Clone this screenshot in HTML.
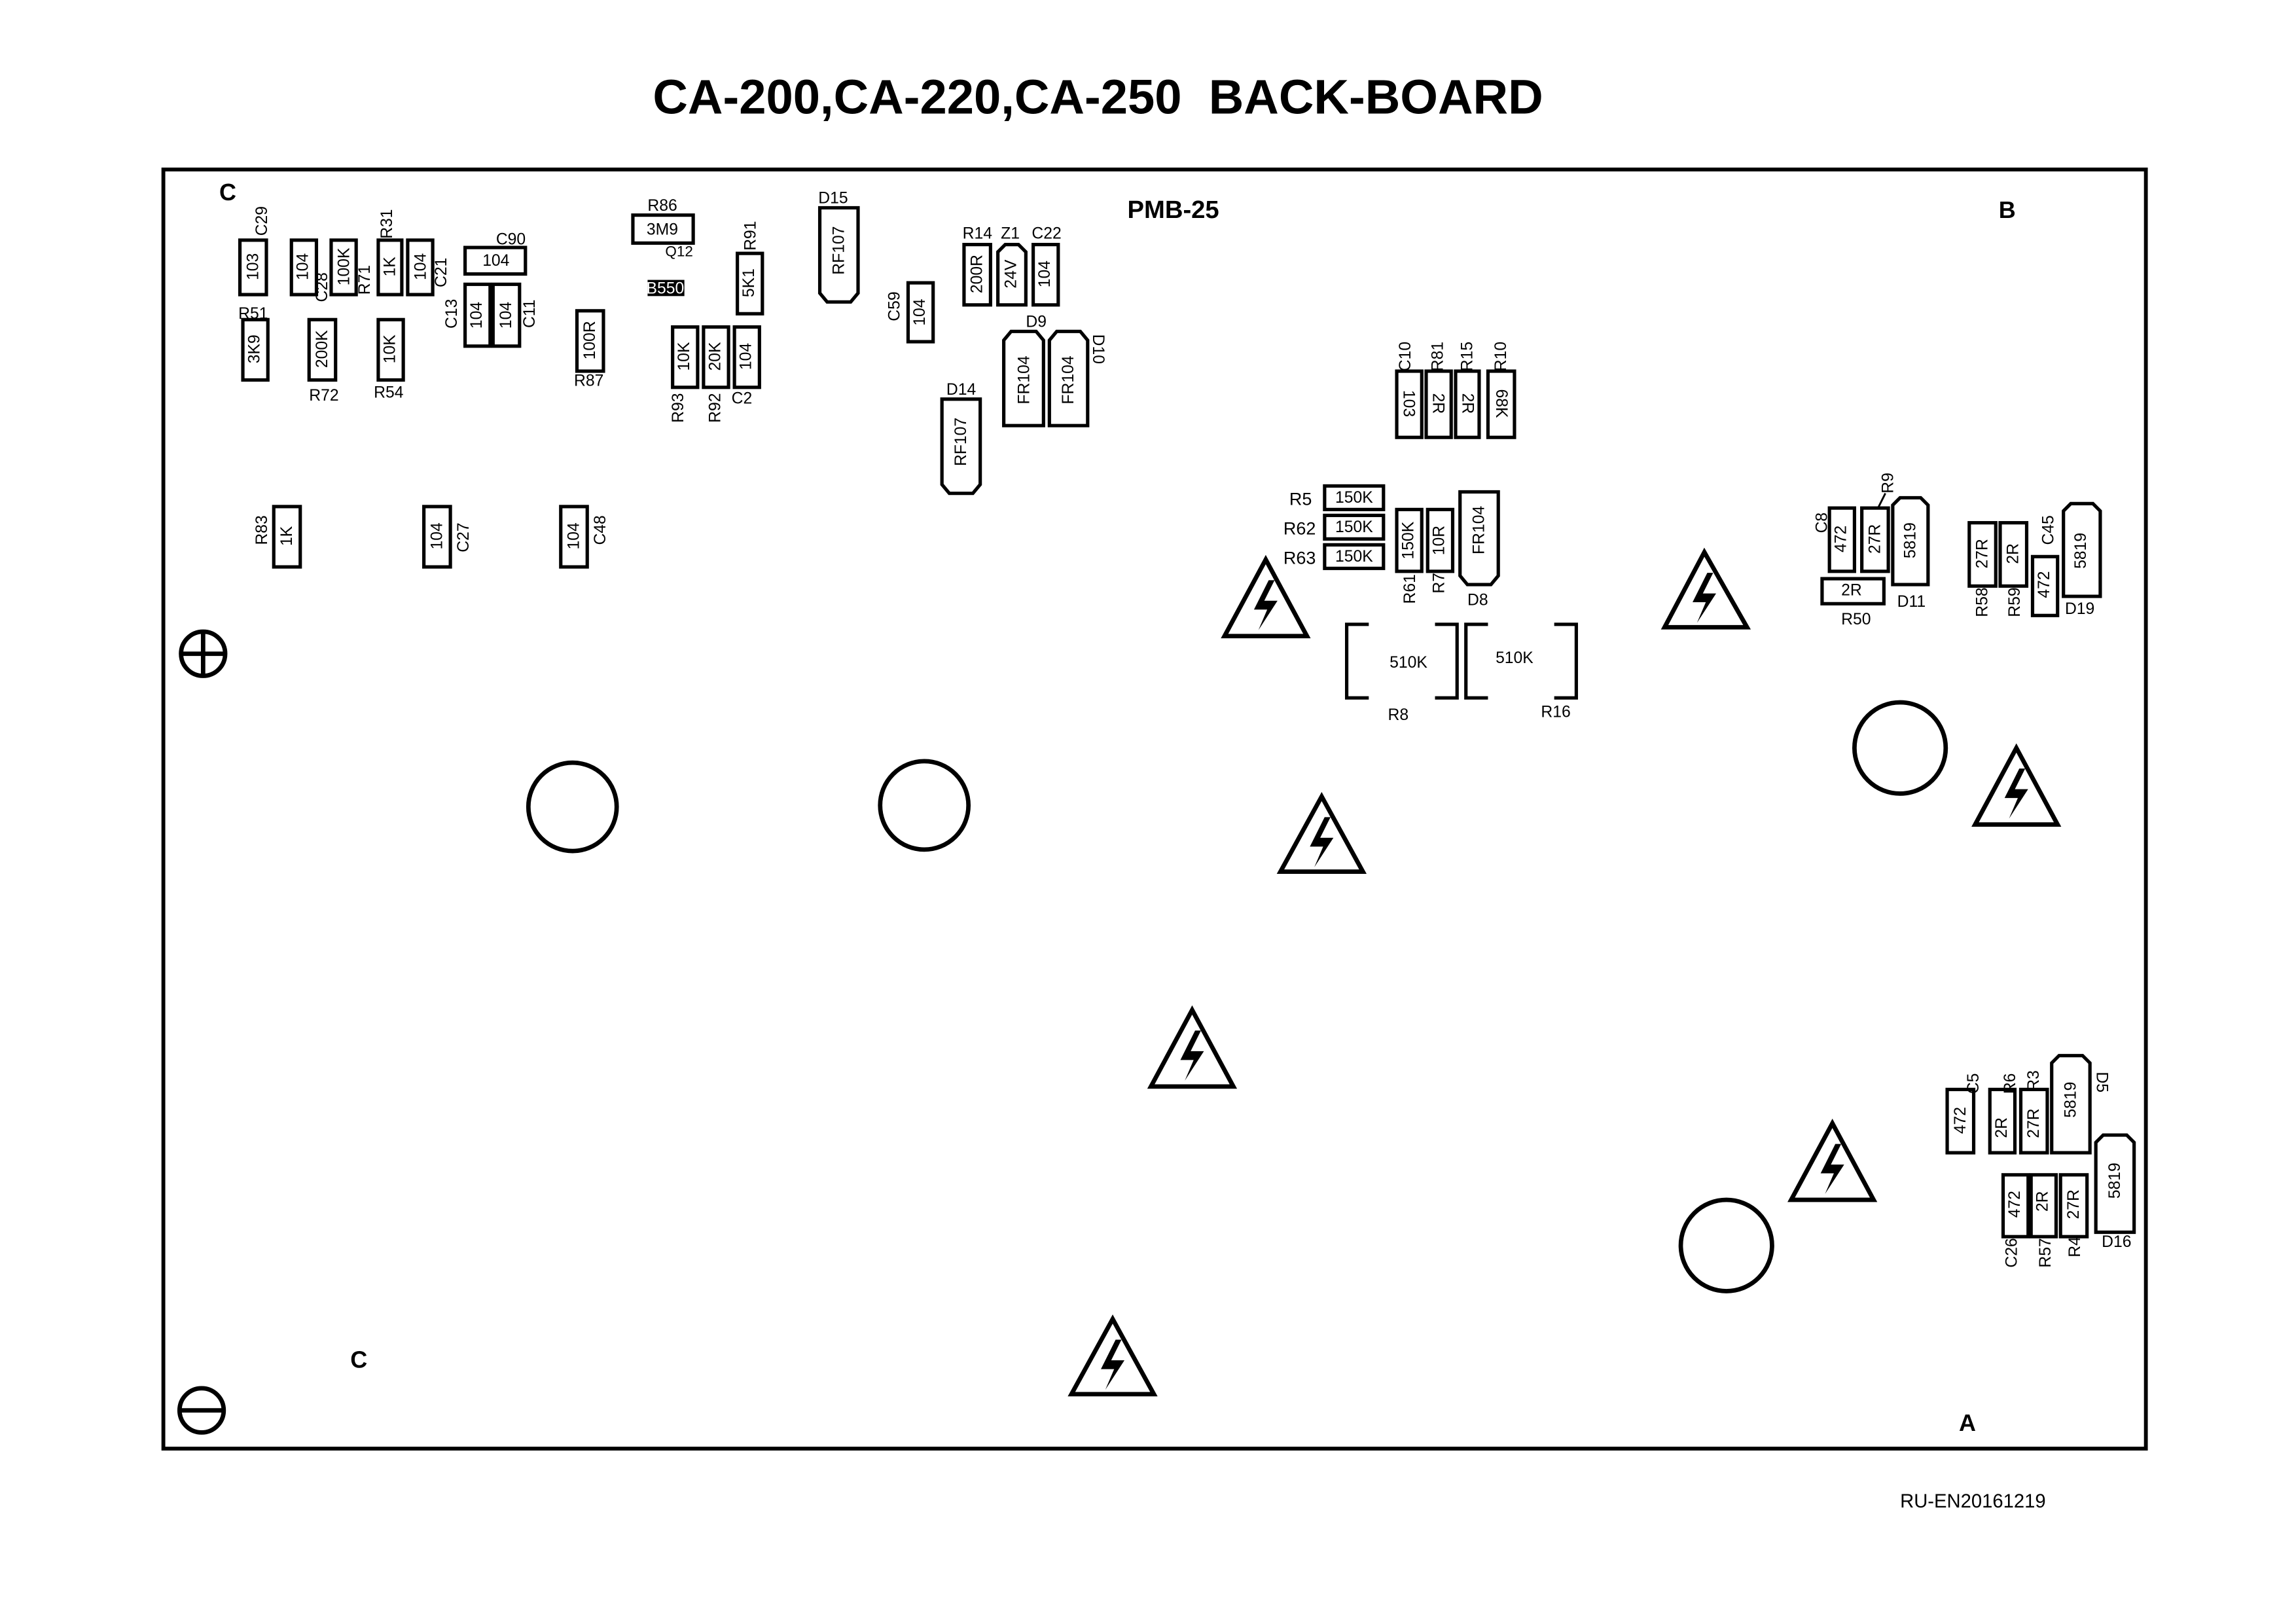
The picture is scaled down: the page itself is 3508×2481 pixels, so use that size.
<!DOCTYPE html>
<html><head><meta charset="utf-8"><style>
html,body{margin:0;padding:0;background:#fff}
svg{display:block}
.p{fill:none;stroke:#000;stroke-width:2.3}
.t{font-family:"Liberation Sans",sans-serif;font-size:11px;fill:#000}
.v{font-family:"Liberation Sans",sans-serif;font-size:11px;fill:#000;text-anchor:middle;dominant-baseline:central}
.tri{fill:none;stroke:#000;stroke-width:3;stroke-linejoin:miter}
.bolt{fill:#000}
</style></head><body>
<svg width="3508" height="2481" viewBox="0 0 1560 1103" xmlns="http://www.w3.org/2000/svg">
<rect width="1560" height="1103" fill="#fff"/>
<text x="746" y="77" text-anchor="middle" xml:space="preserve" style="white-space:pre" font-family="Liberation Sans,sans-serif" font-weight="bold" font-size="33" fill="#000">CA-200,CA-220,CA-250  BACK-BOARD</text>
<rect x="111" y="115" width="1347" height="869" fill="none" stroke="#000" stroke-width="2.6"/>
<g font-family="Liberation Sans,sans-serif" font-weight="bold" font-size="16" fill="#000">
<text x="149" y="136">C</text><text x="1358" y="148">B</text><text x="238" y="929">C</text><text x="1331" y="972">A</text>
<text x="766" y="148" font-size="17">PMB-25</text>
</g>
<text x="1291" y="1024" font-family="Liberation Sans,sans-serif" font-size="13" fill="#000">RU-EN20161219</text>

<circle cx="138" cy="444" r="15" fill="none" stroke="#000" stroke-width="3"/>
<line x1="124" y1="444" x2="152" y2="444" stroke="#000" stroke-width="3"/><line x1="138" y1="430" x2="138" y2="458" stroke="#000" stroke-width="3"/>
<circle cx="137" cy="958" r="15" fill="none" stroke="#000" stroke-width="3"/>
<line x1="123" y1="958" x2="151" y2="958" stroke="#000" stroke-width="3"/>

<g fill="none" stroke="#000" stroke-width="3">
<circle cx="389" cy="548" r="30"/><circle cx="628" cy="547" r="30"/><circle cx="1291" cy="508" r="31"/><circle cx="1173" cy="846" r="31"/>
</g>

<g>
<polygon class="tri" points="860,380 888,432 832,432"/><path class="bolt" d="M862,394 L852,414 L861,414 L855,428 L868,408 L859,408 L866,394Z"/>
<polygon class="tri" points="1158,375 1187,426 1131,426"/><path class="bolt" d="M1160,389 L1150,409 L1159,409 L1153,423 L1166,403 L1157,403 L1164,389Z"/>
<polygon class="tri" points="898,541 926,592 870,592"/><path class="bolt" d="M900,555 L890,575 L899,575 L893,589 L906,569 L897,569 L904,555Z"/>
<polygon class="tri" points="1370,508 1398,560 1342,560"/><path class="bolt" d="M1372,522 L1362,542 L1371,542 L1365,556 L1378,536 L1369,536 L1376,522Z"/>
<polygon class="tri" points="810,686 838,738 782,738"/><path class="bolt" d="M812,700 L802,720 L811,720 L805,734 L818,714 L809,714 L816,700Z"/>
<polygon class="tri" points="1245,763 1273,815 1217,815"/><path class="bolt" d="M1247,777 L1237,797 L1246,797 L1240,811 L1253,791 L1244,791 L1251,777Z"/>
<polygon class="tri" points="756,896 784,947 728,947"/><path class="bolt" d="M758,910 L748,930 L757,930 L751,944 L764,924 L755,924 L762,910Z"/>
</g>

<g>
<rect class="p" x="163" y="163" width="18" height="37"/><text class="v" transform="translate(172,181) rotate(-90)">103</text>
<rect class="p" x="198" y="163" width="17" height="37"/><text class="v" transform="translate(206,181) rotate(-90)">104</text>
<rect class="p" x="225" y="163" width="17" height="37"/><text class="v" transform="translate(234,181) rotate(-90)">100K</text>
<rect class="p" x="257" y="163" width="16" height="37"/><text class="v" transform="translate(265,181) rotate(-90)">1K</text>
<rect class="p" x="277" y="163" width="17" height="37"/><text class="v" transform="translate(286,181) rotate(-90)">104</text>
<rect class="p" x="316" y="193" width="17" height="42"/><text class="v" transform="translate(324,214) rotate(-90)">104</text>
<rect class="p" x="335" y="193" width="18" height="42"/><text class="v" transform="translate(344,214) rotate(-90)">104</text>
<rect class="p" x="165" y="217" width="17" height="41"/><text class="v" transform="translate(173,237) rotate(-90)">3K9</text>
<rect class="p" x="210" y="217" width="18" height="41"/><text class="v" transform="translate(219,237) rotate(-90)">200K</text>
<rect class="p" x="257" y="217" width="17" height="41"/><text class="v" transform="translate(265,237) rotate(-90)">10K</text>
<rect class="p" x="501" y="172" width="17" height="41"/><text class="v" transform="translate(509,192) rotate(-90)">5K1</text>
<rect class="p" x="392" y="211" width="18" height="41"/><text class="v" transform="translate(401,231) rotate(-90)">100R</text>
<rect class="p" x="457" y="222" width="17" height="41"/><text class="v" transform="translate(465,242) rotate(-90)">10K</text>
<rect class="p" x="478" y="222" width="17" height="41"/><text class="v" transform="translate(486,242) rotate(-90)">20K</text>
<rect class="p" x="499" y="222" width="17" height="41"/><text class="v" transform="translate(507,242) rotate(-90)">104</text>
<rect class="p" x="617" y="192" width="17" height="40"/><text class="v" transform="translate(625,212) rotate(-90)">104</text>
<rect class="p" x="655" y="166" width="18" height="41"/><text class="v" transform="translate(664,186) rotate(-90)">200R</text>
<path class="p" d="M678,171 L683,166 L692,166 L697,171 L697,207 L678,207Z"/><text class="v" transform="translate(687,186) rotate(-90)">24V</text>
<rect class="p" x="702" y="166" width="17" height="41"/><text class="v" transform="translate(710,186) rotate(-90)">104</text>
<rect class="p" x="186" y="344" width="18" height="41"/><text class="v" transform="translate(195,364) rotate(-90)">1K</text>
<rect class="p" x="288" y="344" width="18" height="41"/><text class="v" transform="translate(297,364) rotate(-90)">104</text>
<rect class="p" x="381" y="344" width="18" height="41"/><text class="v" transform="translate(390,364) rotate(-90)">104</text>
<path class="p" d="M557,141 L583,141 L583,199 L578,205 L562,205 L557,199Z"/><text class="v" transform="translate(570,170) rotate(-90)">RF107</text>
<path class="p" d="M640,271 L666,271 L666,329 L661,335 L645,335 L640,329Z"/><text class="v" transform="translate(653,300) rotate(-90)">RF107</text>
<path class="p" d="M682,231 L687,225 L704,225 L709,231 L709,289 L682,289Z"/><text class="v" transform="translate(696,258) rotate(-90)">FR104</text>
<path class="p" d="M713,231 L718,225 L734,225 L739,231 L739,289 L713,289Z"/><text class="v" transform="translate(726,258) rotate(-90)">FR104</text>
<rect class="p" x="949" y="252" width="17" height="45"/><text class="v" transform="translate(957,274) rotate(90)">103</text>
<rect class="p" x="969" y="252" width="17" height="45"/><text class="v" transform="translate(977,274) rotate(90)">2R</text>
<rect class="p" x="989" y="252" width="16" height="45"/><text class="v" transform="translate(997,274) rotate(90)">2R</text>
<rect class="p" x="1011" y="252" width="18" height="45"/><text class="v" transform="translate(1020,274) rotate(90)">68K</text>
<rect class="p" x="949" y="346" width="17" height="42"/><text class="v" transform="translate(957,367) rotate(-90)">150K</text>
<rect class="p" x="970" y="346" width="17" height="42"/><text class="v" transform="translate(978,367) rotate(-90)">10R</text>
<path class="p" d="M992,334 L1018,334 L1018,391 L1013,397 L997,397 L992,391Z"/><text class="v" transform="translate(1005,360) rotate(-90)">FR104</text>
<rect class="p" x="1243" y="345" width="17" height="43"/><text class="v" transform="translate(1251,366) rotate(-90)">472</text>
<rect class="p" x="1265" y="345" width="18" height="43"/><text class="v" transform="translate(1274,366) rotate(-90)">27R</text>
<line x1="1276" y1="345" x2="1281" y2="335" stroke="#000" stroke-width="1.3"/>
<path class="p" d="M1286,343 L1291,338 L1305,338 L1310,343 L1310,397 L1286,397Z"/><text class="v" transform="translate(1298,367) rotate(-90)">5819</text>
<rect class="p" x="1338" y="355" width="18" height="43"/><text class="v" transform="translate(1347,376) rotate(-90)">27R</text>
<rect class="p" x="1359" y="355" width="18" height="43"/><text class="v" transform="translate(1368,376) rotate(-90)">2R</text>
<rect class="p" x="1381" y="378" width="17" height="40"/><text class="v" transform="translate(1389,397) rotate(-90)">472</text>
<path class="p" d="M1402,347 L1407,342 L1422,342 L1427,347 L1427,405 L1402,405Z"/><text class="v" transform="translate(1414,374) rotate(-90)">5819</text>
<rect class="p" x="1323" y="740" width="18" height="43"/><text class="v" transform="translate(1332,761) rotate(-90)">472</text>
<rect class="p" x="1352" y="740" width="17" height="43"/><text class="v" transform="translate(1360,766) rotate(-90)">2R</text>
<rect class="p" x="1373" y="740" width="18" height="43"/><text class="v" transform="translate(1382,763) rotate(-90)">27R</text>
<path class="p" d="M1394,722 L1399,717 L1415,717 L1420,722 L1420,783 L1394,783Z"/><text class="v" transform="translate(1407,747) rotate(-90)">5819</text>
<rect class="p" x="1361" y="798" width="17" height="42"/><text class="v" transform="translate(1369,818) rotate(-90)">472</text>
<rect class="p" x="1380" y="798" width="17" height="42"/><text class="v" transform="translate(1388,816) rotate(-90)">2R</text>
<rect class="p" x="1400" y="798" width="18" height="42"/><text class="v" transform="translate(1409,818) rotate(-90)">27R</text>
<path class="p" d="M1424,776 L1429,771 L1445,771 L1450,776 L1450,837 L1424,837Z"/><text class="v" transform="translate(1437,802) rotate(-90)">5819</text>
</g>

<g>
<rect class="p" x="316" y="168" width="41" height="18"/><text class="v" x="337" y="177" font-size="12">104</text>
<rect class="p" x="430" y="146" width="41" height="19"/><text class="v" x="450" y="156" font-size="12">3M9</text>
<rect x="440" y="190" width="25" height="11" fill="#000"/><text class="v" x="452" y="196" font-size="9" style="fill:#fff">B550</text>
<rect class="p" x="900" y="330" width="40" height="16"/><text class="v" x="920" y="338" font-size="13">150K</text>
<rect class="p" x="900" y="350" width="40" height="16"/><text class="v" x="920" y="358" font-size="13">150K</text>
<rect class="p" x="900" y="370" width="40" height="16"/><text class="v" x="920" y="378" font-size="13">150K</text>
<rect class="p" x="1238" y="393" width="42" height="17"/><text class="v" x="1258" y="401" font-size="12">2R</text>
<path class="p" d="M930,424 L915,424 L915,474 L930,474 M975,424 L990,424 L990,474 L975,474" stroke-width="2.6"/>
<text class="v" x="957" y="450" font-size="13">510K</text>
<path class="p" d="M1011,424 L996,424 L996,474 L1011,474 M1056,424 L1071,424 L1071,474 L1056,474" stroke-width="2.6"/>
<text class="v" x="1029" y="447" font-size="13">510K</text>
</g>

<g class="t">
<text x="440" y="143">R86</text><text x="452" y="174" font-size="10">Q12</text>
<text x="556" y="138">D15</text><text x="654" y="162">R14</text><text x="680" y="162">Z1</text><text x="701" y="162">C22</text>
<text x="337" y="166">C90</text>
<text x="210" y="272">R72</text><text x="254" y="270">R54</text><text x="390" y="262">R87</text>
<text x="497" y="274">C2</text><text x="697" y="222">D9</text><text x="643" y="268">D14</text>
<text x="876" y="343" font-size="12">R5</text><text x="872" y="363" font-size="12">R62</text><text x="872" y="383" font-size="12">R63</text>
<text x="997" y="411">D8</text><text x="943" y="489">R8</text><text x="1047" y="487">R16</text>
<text x="1289" y="412">D11</text><text x="1251" y="424">R50</text><text x="1403" y="417">D19</text>
<text x="1428" y="847">D16</text>
</g>
<g>
<text class="v" transform="translate(178,150) rotate(-90)">C29</text>
<text class="v" transform="translate(219,195) rotate(-90)">C28</text>
<text class="v" transform="translate(248,190) rotate(-90)">R71</text>
<text class="v" transform="translate(263,152) rotate(-90)">R31</text>
<text class="v" transform="translate(300,185) rotate(-90)">C21</text>
<text class="v" transform="translate(307,213) rotate(-90)">C13</text>
<text class="v" transform="translate(360,213) rotate(-90)">C11</text>
<text class="v" transform="translate(172,213)">R51</text>
<text class="v" transform="translate(510,160) rotate(-90)">R91</text>
<text class="v" transform="translate(461,277) rotate(-90)">R93</text>
<text class="v" transform="translate(486,277) rotate(-90)">R92</text>
<text class="v" transform="translate(608,208) rotate(-90)">C59</text>
<text class="v" transform="translate(746,237) rotate(90)">D10</text>
<text class="v" transform="translate(178,360) rotate(-90)">R83</text>
<text class="v" transform="translate(315,365) rotate(-90)">C27</text>
<text class="v" transform="translate(408,360) rotate(-90)">C48</text>
<text class="v" transform="translate(955,242) rotate(-90)">C10</text>
<text class="v" transform="translate(977,242) rotate(-90)">R81</text>
<text class="v" transform="translate(997,242) rotate(-90)">R15</text>
<text class="v" transform="translate(1020,242) rotate(-90)">R10</text>
<text class="v" transform="translate(958,400) rotate(-90)">R61</text>
<text class="v" transform="translate(978,396) rotate(-90)">R7</text>
<text class="v" transform="translate(1238,355) rotate(-90)">C8</text>
<text class="v" transform="translate(1283,328) rotate(-90)">R9</text>
<text class="v" transform="translate(1347,409) rotate(-90)">R58</text>
<text class="v" transform="translate(1369,409) rotate(-90)">R59</text>
<text class="v" transform="translate(1392,360) rotate(-90)">C45</text>
<text class="v" transform="translate(1341,736) rotate(-90)">C5</text>
<text class="v" transform="translate(1366,736) rotate(-90)">R6</text>
<text class="v" transform="translate(1382,734) rotate(-90)">R3</text>
<text class="v" transform="translate(1428,735) rotate(90)">D5</text>
<text class="v" transform="translate(1367,851) rotate(-90)">C26</text>
<text class="v" transform="translate(1390,851) rotate(-90)">R57</text>
<text class="v" transform="translate(1410,847) rotate(-90)">R4</text>
</g>
</svg>
</body></html>
